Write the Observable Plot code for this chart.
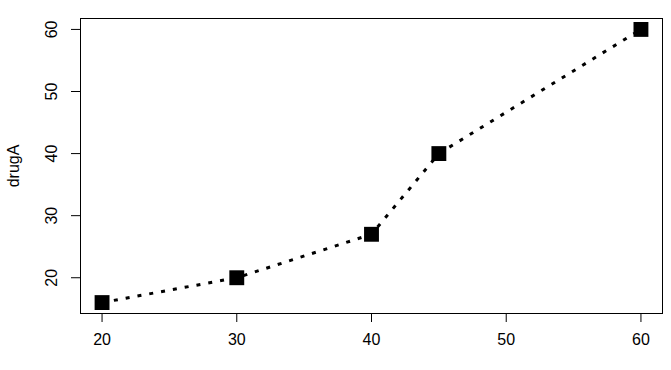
<!DOCTYPE html>
<html>
<head>
<meta charset="utf-8">
<script src="https://cdn.jsdelivr.net/npm/d3@7"></script>
<script src="https://cdn.jsdelivr.net/npm/@observablehq/plot@0.6"></script>
<style>
  html, body { margin: 0; padding: 0; background: #fff; }
  #chart svg { display: block; }
</style>
</head>
<body>
<div id="chart"></div>
<script>
const dose = [20, 30, 40, 45, 60];
const drugA = [16, 20, 27, 40, 60];
const xTicks = [20, 30, 40, 50, 60];
const yTicks = [20, 30, 40, 50, 60];
const yLabel = "drugA";

const data = dose.map((d, i) => ({dose: d, drugA: drugA[i]}));
const font = "Liberation Sans, Arial, sans-serif";

const chart = Plot.plot({
  width: 671,
  height: 370,
  marginLeft: 80,
  marginRight: 9,
  marginTop: 18,
  marginBottom: 57,
  style: {fontFamily: font, fontSize: "16px", background: "#fff", color: "#000"},
  x: {domain: [18.4, 61.6], axis: null},
  y: {domain: [14.24, 61.76], axis: null},
  marks: [
    Plot.frame({stroke: "#000", strokeWidth: 1}),
    Plot.axisX(xTicks, {tickSize: 9, tickPadding: 11, fontSize: 16, stroke: "#000", label: null}),
    Plot.axisY(yTicks, {tickSize: 9, stroke: "#000", label: null, tickFormat: () => ""}),
    Plot.text(yTicks, {x: null, y: d => d, text: d => String(d), frameAnchor: "left", dx: -29, rotate: -90, textAnchor: "middle", lineAnchor: "middle", fontSize: 16, fill: "#000"}),
    Plot.text([yLabel], {frameAnchor: "left", dx: -67, rotate: -90, textAnchor: "middle", lineAnchor: "middle", fontSize: 16, fill: "#000"}),
    Plot.line(data, {x: "dose", y: "drugA", stroke: "#000", strokeWidth: 3, strokeDasharray: "4,8", strokeLinecap: "butt"}),
    Plot.dot(data, {x: "dose", y: "drugA", symbol: "square", r: 8.4, fill: "#000", stroke: "none"})
  ]
});
document.getElementById("chart").appendChild(chart);
</script>
</body>
</html>
